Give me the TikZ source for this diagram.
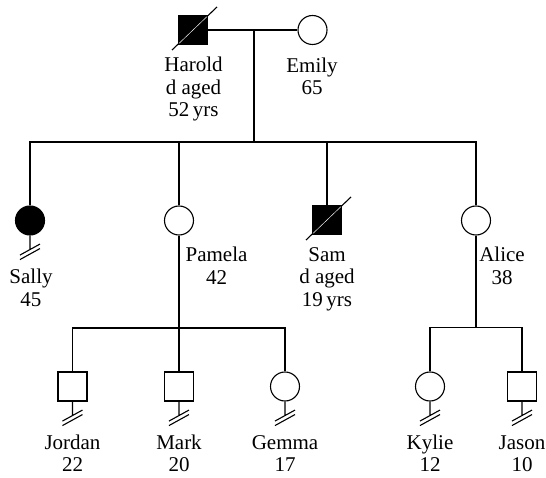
\documentclass[tikz,border=0pt]{standalone}
\usepackage{fontspec}
\setmainfont{Liberation Serif}
\newcommand\nooffspring[1]{%
  \draw (#1.south) -- ++(0,14)
        (#1.south) ++(-10,19.5) -- ++(20,-11)
        (#1.south) ++(-10,24) -- ++(20,-11);}
\newcommand\deceased[1]{%
  \draw (#1.center) ++(-21,20) -- ++(45,-43);
  \draw[white,line width=0.45pt] (#1.center) ++(-14,13.4) -- ++(28,-26.8);}
\begin{document}
\begin{tikzpicture}[x=1pt,y=-1pt,line width=1.1pt,
  male/.style={draw,fill=white,rectangle,minimum size=29pt,inner sep=0pt},
  female/.style={draw,fill=white,circle,minimum size=29pt,inner sep=0pt},
  affected/.style={fill=black},
  lbl/.style={align=center,anchor=base,inner sep=0pt,font=\fontsize{21}{22.5}\selectfont}]
\useasboundingbox (0,0) rectangle (546,478);
% generation I
\node[male,affected] (harold) at (193,30) {};
\node[female] (emily) at (312.5,30) {};
\draw (harold) -- (emily);
\coordinate (mh) at (254,30);
\coordinate (sib) at (254,142);
\draw (mh) -- (sib);
\deceased{harold}
\node[lbl] (haroldl) at (193.5,117) {Harold\\d aged\\52\,yrs};
\node[lbl] (emilyl) at (312,95) {Emily\\65};
% generation II
\node[female,affected] (sally) at (30,220.5) {};
\node[female] (pamela) at (179,220.5) {};
\node[male,affected] (sam) at (327,220) {};
\node[female] (alice) at (476,220.5) {};
\draw (sally.north) |- (sib) -| (alice.north);
\draw (pamela.north) -- (pamela.north |- sib);
\draw (sam.north) -- (sam.north |- sib);
\deceased{sam}
\nooffspring{sally}
\node[lbl] (sallyl) at (31,306) {Sally\\45};
\node[lbl] (pamelal) at (216.5,284) {Pamela\\42};
\node[lbl] (saml) at (327,306) {Sam\\d aged\\19\,yrs};
\node[lbl] (alicel) at (502,284) {Alice\\38};
% generation III
\coordinate (psib) at (179,328);
\coordinate (asib) at (476,327.5);
\node[male] (jordan) at (72.5,386.5) {};
\node[male] (mark) at (179,386.5) {};
\node[female] (gemma) at (285,386.5) {};
\node[female] (kylie) at (430,386.5) {};
\node[male] (jason) at (522,386.5) {};
\draw (pamela.south) -- (psib);
\draw (jordan.north) |- (psib) -| (gemma.north);
\draw (psib) -- (mark.north);
\draw (alice.south) -- (asib);
\draw (kylie.north) |- (asib) -| (jason.north);
\foreach \n in {jordan,mark,gemma,kylie,jason}{\nooffspring{\n}}
\node[lbl] (jordanl) at (72.5,471.5) {Jordan\\22};
\node[lbl] (markl) at (179,471.5) {Mark\\20};
\node[lbl] (gemmal) at (285,471.5) {Gemma\\17};
\node[lbl] (kyliel) at (430,471.5) {Kylie\\12};
\node[lbl] (jasonl) at (522,471.5) {Jason\\10};
\end{tikzpicture}
\end{document}
